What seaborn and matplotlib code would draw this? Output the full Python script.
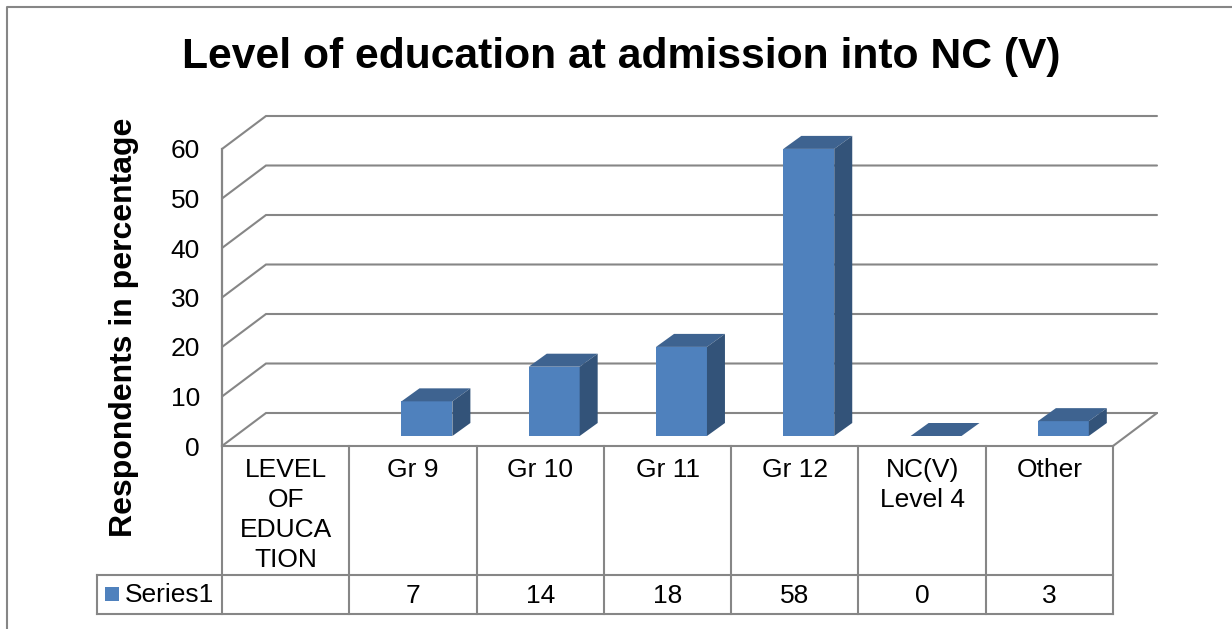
import numpy as np
import pandas as pd
import matplotlib
matplotlib.use("Agg")
import matplotlib.pyplot as plt
from matplotlib.patches import Polygon, Rectangle
import seaborn as sns

categories = ["LEVEL OF EDUCATION", "Gr 9", "Gr 10", "Gr 11", "Gr 12", "NC(V) Level 4", "Other"]
cat_labels = ["LEVEL\nOF\nEDUCA\nTION", "Gr 9", "Gr 10", "Gr 11", "Gr 12", "NC(V)\nLevel 4", "Other"]
values = [np.nan, 7, 14, 18, 58, 0, 3]
y_ticks = [0, 10, 20, 30, 40, 50, 60]
series_name = "Series1"
title = "Level of education at admission into NC (V)"
y_title = "Respondents in percentage"

W, H = 1232, 629
GREY = "#868686"
FRONT, TOP, SIDE = "#4F81BD", "#3E6390", "#335379"

sns.set_theme(style="white")
plt.rcParams["font.family"] = ["Liberation Sans", "DejaVu Sans"]

fig = plt.figure(figsize=(W / 100, H / 100), dpi=100, facecolor="white")


def box(left, top, right, bottom):
    return [left / W, 1 - bottom / H, (right - left) / W, (bottom - top) / H]


# overlay in pixels: outer frame and table
over = fig.add_axes([0, 0, 1, 1], zorder=3)
over.set_xlim(0, W)
over.set_ylim(H, 0)
over.axis("off")
over.patch.set_alpha(0)

# value axis with the back wall behind it
x0, x1, y0, y1 = 222, 1113, 446, 149
dx, dy = 44, -33
wall = fig.add_axes(box(x0, y1, x1, y0), zorder=1)
wall.set_xlim(0, 1)
wall.set_ylim(0, 60)
wall.patch.set_alpha(0)
for s in ["top", "right", "bottom"]:
    wall.spines[s].set_visible(False)
wall.spines["left"].set_color(GREY)
wall.spines["left"].set_linewidth(1.6)
wall.set_xticks([])
wall.set_yticks(y_ticks)
wall.tick_params(axis="y", length=0, pad=16, labelsize=19, labelcolor="black")
ppu = (y0 - y1) / 60
for t in y_ticks:
    y = y0 - t * ppu
    over.plot([x0, x0 + dx, x1 + dx], [y, y + dy, y + dy], color=GREY, lw=1.5,
              solid_joinstyle="miter", zorder=1)
over.plot([x1, x1 + dx], [y0, y0 + dy], color=GREY, lw=1.5, zorder=1)
over.text(124, 327, y_title, rotation=90, ha="center", va="center", fontsize=23,
          fontweight="bold", color="black", zorder=6)

# bars: seaborn draws the front faces, the faces behind come from the same values
cat_w = (x1 - x0) / len(categories)
shift = 14
bars = fig.add_axes(box(x0 + shift, 116, x1 + shift, 436), zorder=4)
df = pd.DataFrame({"cat": categories, "val": values})
sns.barplot(data=df, x="cat", y="val", color=FRONT, saturation=1, width=0.4, ax=bars,
            order=categories, errorbar=None, linewidth=0)
bars.set_xlim(-0.5, len(categories) - 0.5)
bars.set_ylim(0, 320 / ppu)
bars.patch.set_alpha(0)
bars.axis("off")
ddx, ddy = 18 / cat_w, 13 / ppu
hw = 0.2
for i, v in enumerate(values):
    if np.isnan(v):
        continue
    bars.add_patch(Polygon([(i - hw, v), (i + hw, v), (i + hw + ddx, v + ddy), (i - hw + ddx, v + ddy)],
                           fc=TOP, ec="none", zorder=2, clip_on=False))
    bars.add_patch(Polygon([(i + hw, 0), (i + hw + ddx, ddy), (i + hw + ddx, v + ddy), (i + hw, v)],
                           fc=SIDE, ec="none", zorder=2, clip_on=False))

# table
row0, row1, row2 = 446, 575, 614
leg_left = 97
line = dict(color=GREY, lw=1.5, zorder=5, solid_capstyle="projecting")
over.plot([x0, x1], [row0, row0], **line)
over.plot([leg_left, x1], [row1, row1], **line)
over.plot([leg_left, x1], [row2, row2], **line)
over.plot([leg_left, leg_left], [row1, row2], **line)
for i in range(len(categories) + 1):
    x = x0 + i * cat_w
    over.plot([x, x], [row0, row2], **line)
for i, (lab, v) in enumerate(zip(cat_labels, values)):
    cx = x0 + (i + 0.5) * cat_w
    over.text(cx, 458, lab, ha="center", va="top", fontsize=19, color="black",
              linespacing=1.32, zorder=6)
    if not np.isnan(v):
        over.text(cx, 596, f"{v:g}", ha="center", va="center", fontsize=19, color="black", zorder=6)
over.add_patch(Rectangle((105, 587), 14, 14, fc=FRONT, ec="none", zorder=6))
over.text(125, 595, series_name, ha="left", va="center", fontsize=19, color="black", zorder=6)

# title and outer frame
over.text(621, 57, title, ha="center", va="center", fontsize=30.7, fontweight="bold", color="black", zorder=6)
over.plot([7, 7, W], [H, 7, 7], color=GREY, lw=1.5, zorder=6)

fig.savefig("out.png", dpi=100)
